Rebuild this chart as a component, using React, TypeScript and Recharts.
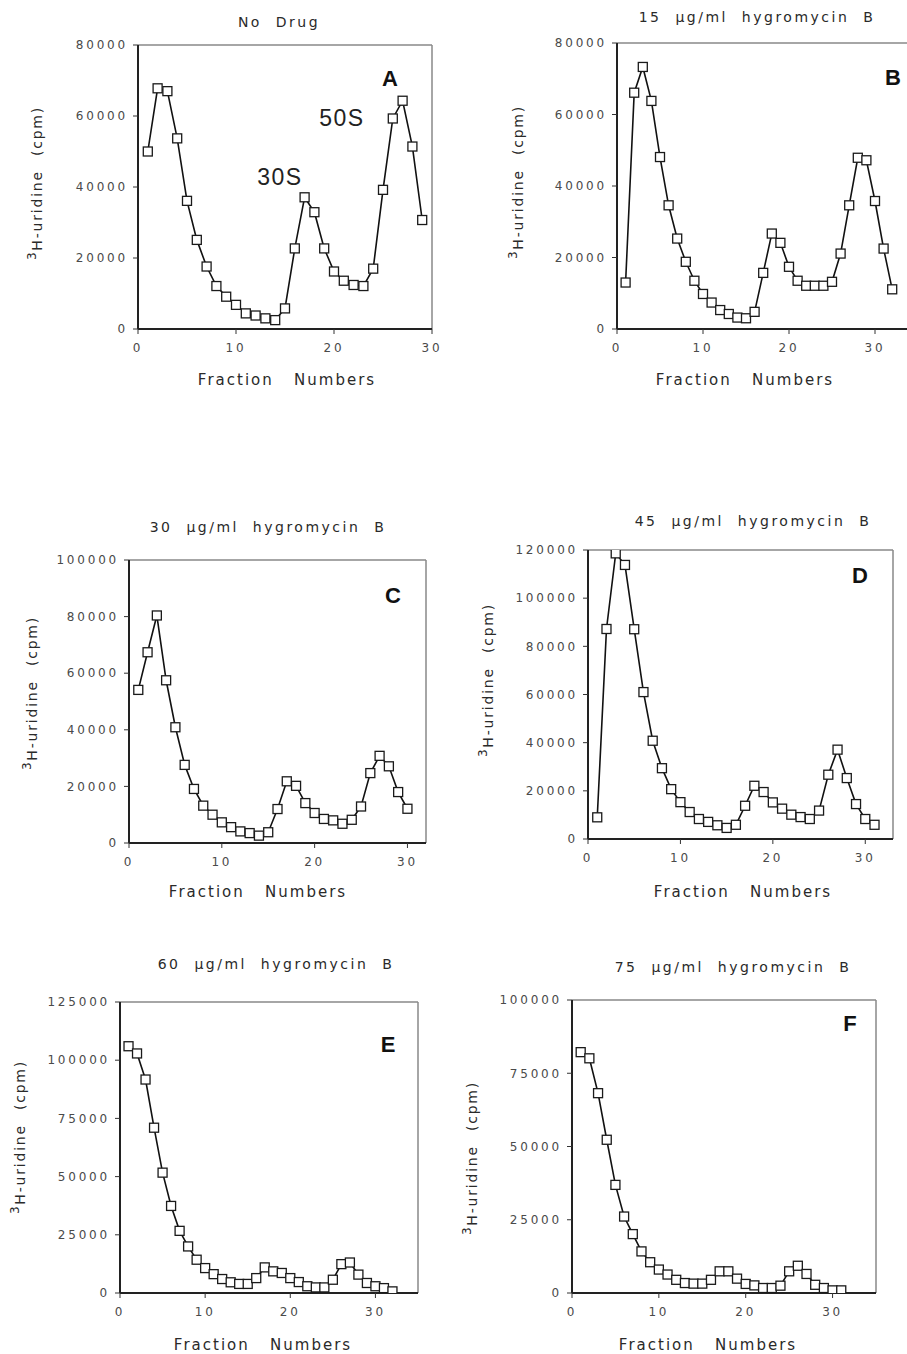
import React from "react";
import { LineChart, Line, XAxis, YAxis } from "recharts";

// fraction numbers (x categories)
const fractions = [
  1, 2, 3, 4, 5, 6, 7, 8, 9, 10, 11, 12, 13, 14, 15, 16,
  17, 18, 19, 20, 21, 22, 23, 24, 25, 26, 27, 28, 29, 30, 31, 32,
];

// 3H-uridine (cpm) per fraction
const noDrug = [
  50000, 67800, 67000, 53700, 36100, 25100, 17600, 12100, 9100, 6800, 4400, 3800, 3000, 2500, 5800,
  22700, 37100, 32900, 22700, 16200, 13600, 12400, 12100, 17000, 39200, 59300, 64300, 51400, 30700,
];
const hyg15 = [
  13000, 66100, 73300, 63800, 48100, 34600, 25300, 18800, 13500, 9800, 7400, 5300, 4200, 3200, 3000,
  4800, 15700, 26700, 24100, 17400, 13500, 12100, 12100, 12100, 13200, 21100, 34600, 47900, 47200,
  35800, 22500, 11100,
];
const hyg30 = [
  54100, 67400, 80400, 57500, 40900, 27600, 19100, 13200, 10000, 7300, 5600, 4100, 3500, 2600, 3800,
  12000, 21800, 20200, 14100, 10600, 8500, 8000, 6800, 8200, 12900, 24700, 30800, 27100, 18000, 12100,
];
const hyg45 = [
  9000, 87200, 118600, 113800, 87100, 61000, 40800, 29400, 20700, 15300, 11200, 8300, 7100, 5700,
  4600, 5900, 13800, 22100, 19500, 15200, 12600, 10100, 9100, 8300, 11800, 26700, 37100, 25300,
  14500, 8300, 5900,
];
const hyg60 = [
  106000, 102900, 91700, 71000, 51700, 37400, 26700, 20000, 14300, 10700, 8100, 6000, 4600, 3900,
  3900, 6400, 11000, 9300, 8600, 6400, 4700, 2900, 2400, 2400, 5700, 12400, 13100, 7900, 4300, 2900,
  2100, 700,
];
const hyg75 = [
  82200, 80100, 68200, 52300, 36900, 26100, 20100, 14200, 10500, 8000, 6300, 4500, 3400, 3200, 3200,
  4500, 7400, 7400, 4900, 3100, 2600, 1700, 1700, 2500, 7400, 9300, 6500, 2800, 1700, 900, 900,
];

// tick labels
const xTicks = [0, 10, 20, 30];
const yTicks80 = [0, 20000, 40000, 60000, 80000];
const yTicks100 = [0, 20000, 40000, 60000, 80000, 100000];
const yTicks120 = [0, 20000, 40000, 60000, 80000, 100000, 120000];
const yTicks125 = [0, 25000, 50000, 75000, 100000, 125000];
const yTicks100q = [0, 25000, 50000, 75000, 100000];

const titles = [
  "No  Drug",
  "15  \u00b5g/ml  hygromycin  B",
  "30  \u00b5g/ml  hygromycin  B",
  "45  \u00b5g/ml  hygromycin  B",
  "60  \u00b5g/ml  hygromycin  B",
  "75  \u00b5g/ml  hygromycin  B",
];
const letters = ["A", "B", "C", "D", "E", "F"];

// page layout: plot box [left, top, right, bottom] and text centres
const layout = [
  { box: [138, 45, 432, 329], xMax: 30, title: [279, 22], yLab: [37, 183], xLab: [287, 380], letter: [390, 78] },
  { box: [617, 43, 918, 329], xMax: 35, title: [757, 17], yLab: [518, 182], xLab: [745, 380], letter: [893, 77] },
  { box: [129, 560, 426, 843], xMax: 32, title: [268, 527], yLab: [32, 693], xLab: [258, 892], letter: [393, 595] },
  { box: [588, 550, 893, 839], xMax: 33, title: [753, 521], yLab: [488, 680], xLab: [743, 892], letter: [860, 575] },
  { box: [120, 1002, 418, 1293], xMax: 35, title: [276, 964], yLab: [20, 1137], xLab: [263, 1345], letter: [388, 1044] },
  { box: [572, 1000, 876, 1293], xMax: 35, title: [733, 967], yLab: [472, 1158], xLab: [708, 1345], letter: [850, 1023] },
];

const series = [noDrug, hyg15, hyg30, hyg45, hyg60, hyg75];
const yTickSets = [yTicks80, yTicks80, yTicks100, yTicks120, yTicks125, yTicks100q];

// peak annotations in panel A
const peakNotes = [
  { text: "30S", at: [280, 177] },
  { text: "50S", at: [342, 118] },
];

const AXIS_W = 130;
const TOP = 60;
const X_H = 70;
const RIGHT = 20;
const GENEVA = "'DejaVu Sans', Verdana, sans-serif";
const HELV = "'Liberation Sans', Arial, sans-serif";

const tickStyle = { fill: "#4a4a4a", fontSize: 12, fontFamily: GENEVA, letterSpacing: 2.8 };

function SquareDot(props: any) {
  const { cx, cy, index } = props;
  if (cx == null || cy == null) return null;
  return (
    <rect key={index} x={cx - 4.5} y={cy - 4.5} width={9} height={9} fill="#fff" stroke="#1a1a1a" strokeWidth={1.3} />
  );
}

function Panel({ idx }: { idx: number }) {
  const lay = layout[idx];
  const [left, top, right, bottom] = lay.box;
  const pw = right - left;
  const ph = bottom - top;
  const ox = left - AXIS_W;
  const oy = top - TOP;
  const yTicks = yTickSets[idx];
  const data = series[idx].map((v, i) => ({ fraction: fractions[i], cpm: v }));
  const loc = (p: number[]) => [p[0] - ox, p[1] - oy];

  const [tx, ty] = loc(lay.title);
  const [ylx, yly] = loc(lay.yLab);
  const [xlx, xly] = loc(lay.xLab);
  const [lx, ly] = loc(lay.letter);

  const xLabel = () => (
    <text x={xlx} y={xly} textAnchor="middle" dominantBaseline="central" fontFamily={GENEVA} fontSize={15}
      fill="#2a2a2a" letterSpacing={2} style={{ whiteSpace: "pre" }}>
      {"Fraction   Numbers"}
    </text>
  );
  // y title plus panel title, panel letter and peak notes
  const yLabel = () => (
    <g>
      <text x={ylx} y={yly} transform={`rotate(-90 ${ylx} ${yly})`} textAnchor="middle" dominantBaseline="central"
        fontFamily={GENEVA} fontSize={14} fill="#2a2a2a" letterSpacing={1.8}>
        <tspan fontSize={12} dy={-5}>3</tspan>
        <tspan dy={5}>H-uridine</tspan>
        <tspan dx={14}>(cpm)</tspan>
      </text>
      <text x={tx} y={ty} textAnchor="middle" dominantBaseline="central" fontFamily={GENEVA} fontSize={14}
        fill="#2a2a2a" letterSpacing={2.5} style={{ whiteSpace: "pre" }}>
        {titles[idx]}
      </text>
      <text x={lx} y={ly} textAnchor="middle" dominantBaseline="central" fontFamily={HELV} fontSize={22}
        fontWeight="bold" fill="#111">
        {letters[idx]}
      </text>
      {idx === 0 &&
        peakNotes.map((n) => {
          const [nx, ny] = loc(n.at);
          return (
            <text key={n.text} x={nx} y={ny} textAnchor="middle" dominantBaseline="central" fontFamily={HELV}
              fontSize={23} letterSpacing={1.5} fill="#222">
              {n.text}
            </text>
          );
        })}
    </g>
  );

  return (
    <div style={{ position: "absolute", left: ox, top: oy }}>
      <LineChart
        width={AXIS_W + pw + RIGHT}
        height={TOP + ph + X_H}
        data={data}
        margin={{ top: TOP - 1, right: RIGHT - 1, bottom: 0, left: 0 }}
      >
        <XAxis
          xAxisId="top"
          orientation="top"
          type="number"
          domain={[0, lay.xMax]}
          allowDataOverflow
          height={1}
          ticks={xTicks}
          tick={false}
          tickLine={false}
          axisLine={{ stroke: "#888", strokeWidth: 1.5 }}
        />
        <YAxis
          yAxisId="right"
          orientation="right"
          type="number"
          domain={[0, yTicks[yTicks.length - 1]]}
          allowDataOverflow
          width={1}
          ticks={yTicks}
          tick={false}
          tickLine={false}
          axisLine={{ stroke: "#888", strokeWidth: 1.5 }}
        />
        <XAxis
          dataKey="fraction"
          type="number"
          domain={[0, lay.xMax]}
          allowDataOverflow
          ticks={xTicks}
          interval={0}
          height={X_H}
          tickSize={5}
          tickMargin={9}
          tickLine={{ stroke: "#333" }}
          axisLine={{ stroke: "#222", strokeWidth: 2 }}
          tick={tickStyle}
          label={xLabel}
        />
        <YAxis
          type="number"
          domain={[0, yTicks[yTicks.length - 1]]}
          allowDataOverflow
          ticks={yTicks}
          interval={0}
          width={AXIS_W}
          tickSize={5}
          tickMargin={5}
          tickLine={{ stroke: "#333" }}
          axisLine={{ stroke: "#222", strokeWidth: 2 }}
          tick={tickStyle}
          label={yLabel}
        />
        <Line
          dataKey="cpm"
          stroke="#111"
          strokeWidth={1.6}
          dot={SquareDot}
          activeDot={false}
          isAnimationActive={false}
        />
      </LineChart>
    </div>
  );
}

export default function App() {
  return (
    <div
      style={{
        position: "absolute",
        left: 0,
        top: 0,
        width: 907,
        height: 1354,
        overflow: "hidden",
        background: "#fff",
      }}
    >
      {layout.map((_, i) => (
        <Panel key={letters[i]} idx={i} />
      ))}
    </div>
  );
}
